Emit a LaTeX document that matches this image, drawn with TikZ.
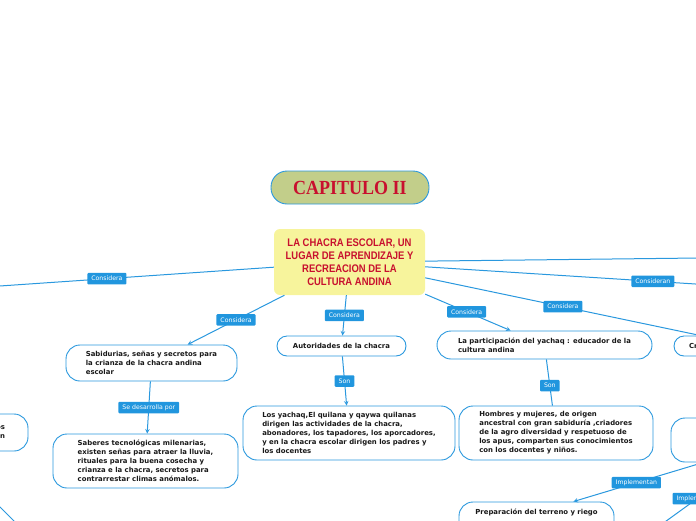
\documentclass[tikz,border=0pt]{standalone}
\usepackage{fontspec}
\setmainfont{DejaVu Sans}
\newfontfamily\titlefont{Liberation Serif}[FakeStretch=0.9]
\newfontfamily\headfont{Liberation Sans}[FakeStretch=0.86]
\usetikzlibrary{arrows}
\usetikzlibrary{calc}
\usetikzlibrary{positioning}

\definecolor{mmblue}{RGB}{42,152,222}
\definecolor{lblblue}{RGB}{33,150,222}
\definecolor{titlegreen}{RGB}{194,206,138}
\definecolor{mainyellow}{RGB}{247,244,156}
\definecolor{headred}{RGB}{200,16,46}

\tikzset{
	idea/.style={draw=mmblue, line width=0.9pt, fill=white, rounded corners=14pt, align=left, inner sep=0pt, text=black!90, font=\fontsize{6.9}{9}\selectfont\bfseries},
	lbl/.style={fill=lblblue, text=white, rounded corners=1pt, inner xsep=4pt, inner ysep=0pt, minimum height=11.5pt, font=\fontsize{6.2}{7}\selectfont},
	link/.style={draw=mmblue, line width=1pt},
}

\begin{document}
\begin{tikzpicture}[x=1pt,y=-1pt]
	\clip (0,0) rectangle (696,520);

	% title and main idea
	\node[draw=mmblue, fill=titlegreen, line width=0.9pt, rounded corners=16pt, minimum width=158, minimum height=33, text=headred, font=\titlefont\fontsize{20}{20}\selectfont\bfseries] (capitulo) at (350,187.5) {CAPITULO II};
	\node[fill=mainyellow, rounded corners=6pt, minimum width=151, minimum height=66, align=center, text=headred, font=\headfont\fontsize{11}{13}\selectfont\bfseries] (chacra) at (349.5,262) {LA CHACRA ESCOLAR, UN\\LUGAR DE APRENDIZAJE Y\\RECREACION DE LA\\CULTURA ANDINA};

	% ideas
	\node[idea, minimum width=171, minimum height=36] (sabidurias) at (151.5,363) {Sabidurias, señas y secretos para\\la crianza de la chacra andina\\escolar};
	\node[idea, minimum width=185, minimum height=54] (saberes) at (145.5,461) {Saberes tecnológicas milenarias,\\existen señas para atraer la lluvia,\\rituales para la buena cosecha y\\crianza e la chacra, secretos para\\contrarrestar climas anómalos.};
	\node[idea, rounded corners=10pt, minimum width=129, minimum height=20, align=center] (autoridades) at (341.5,346) {Autoridades de la chacra};
	\node[idea, minimum width=212, minimum height=54] (yachaq) at (349,433) {Los yachaq,El quilana y qaywa quilanas\\dirigen las actividades de la chacra,\\abonadores, los tapadores, los aporcadores,\\y en la chacra escolar dirigen los padres y\\los docentes};
	\node[idea, minimum width=215, minimum height=28] (participacion) at (544.5,345) {La participación del yachaq : educador de la\\cultura andina};
	\node[idea, minimum width=194, minimum height=54] (hombres) at (556,433) {Hombres y mujeres, de origen\\ancestral con gran sabiduría ,criadores\\de la agro diversidad y respetuoso de\\los apus, comparten sus conocimientos\\con los docentes y niños.};
	\node[idea, minimum width=155, minimum height=40, inner ysep=4pt, text height=8pt, text depth=24pt] (preparacion) at (536.5,522) {Preparación del terreno y riego};

	% cut at the edges
	\node[idea, rounded corners=10pt, minimum width=153, minimum height=20, inner xsep=15pt, text width=123pt] (cr) at (750.5,346) {Cr};
	\node[idea, minimum width=214, minimum height=44] (implementa) at (778,440) {};
	\node[idea, minimum width=156, minimum height=37, align=right, inner xsep=23pt, text width=110pt] (izq) at (-50,432.5) {os\\n};

	\coordinate (izqfin) at (-60,290.1);
	\coordinate (der1) at (760,257.3);
	\coordinate (der2) at (760,288.1);
	\coordinate (abajo) at (640,540);
	\coordinate (izqa) at (-30,477);
	\coordinate (izqb) at (60,567);

	% links
	\draw[link,->,>=stealth] (chacra) -- node[lbl]{Considera} (izqfin);
	\draw[link,->,>=stealth] (chacra) -- node[lbl]{Considera} (sabidurias);
	\draw[link,->,>=stealth] (chacra) -- node[lbl]{Considera} (autoridades);
	\draw[link,->,>=stealth] (chacra) -- node[lbl,pos=0.485]{Considera} (participacion);
	\draw[link,->,>=stealth] (chacra) -- node[lbl]{Considera} (cr);
	\draw[link,->,>=stealth] (chacra) -- node[lbl,pos=0.68]{Consideran} (der2);
	\draw[link,->,>=stealth] (chacra) -- (der1);

	\draw[link,->,>=stealth] (sabidurias) -- node[lbl]{Se desarrolla por} (saberes);
	\draw[link,->,>=stealth] (autoridades) -- node[lbl]{Son} (yachaq);
	\draw[link] (participacion) -- node[lbl,pos=0.57]{Son} (hombres);
	\draw[link,->,>=stealth] (implementa) -- node[lbl,pos=0.516]{Implementan} (preparacion.29);
	\draw[link,->,>=stealth] (implementa) -- node[lbl,pos=0.466]{Implementan} (abajo);
	\draw[link] (izqa) -- (izqb);
\end{tikzpicture}
\end{document}
